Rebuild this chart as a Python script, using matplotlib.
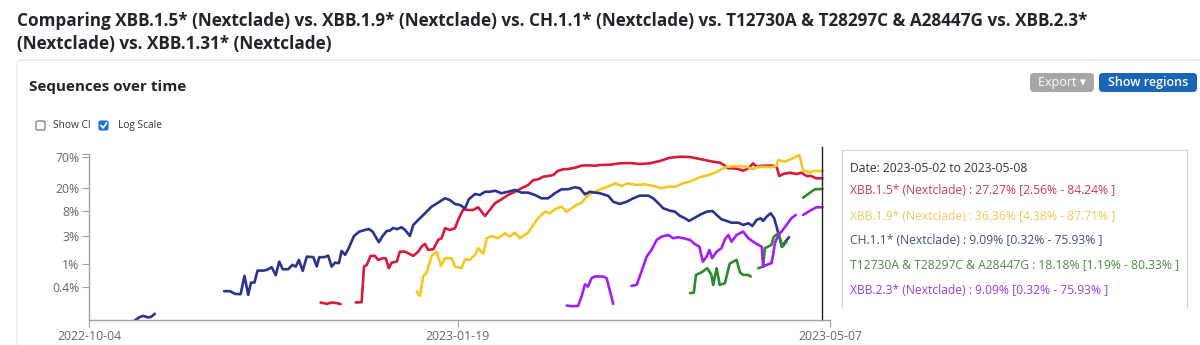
import numpy as np
import matplotlib
matplotlib.use("Agg")
import matplotlib.pyplot as plt
from matplotlib.patches import FancyBboxPatch
from matplotlib.ticker import FixedLocator, NullFormatter, FixedFormatter
from matplotlib.lines import Line2D

FONT = ['Open Sans', 'DejaVu Sans']
plt.rcParams['font.family'] = FONT
NaN = np.nan

# ---------------- data ----------------
x_tick_days = [0, 107, 215]            # days after 2022-10-04
x_tick_labels = ["2022-10-04", "2023-01-19", "2023-05-07"]
y_ticks = [0.4, 1, 3, 8, 20, 70]
y_tick_labels = ["0.4%", "1%", "3%", "8%", "20%", "70%"]
x_range_days = [0, 215]
y_range_pct = [0.105, 78]
hover_day = 212.6

series_names = ["XBB.1.5* (Nextclade)", "XBB.1.9* (Nextclade)", "CH.1.1* (Nextclade)",
                "T12730A & T28297C & A28447G", "XBB.2.3* (Nextclade)"]
series_colors = ["#d7193c", "#f6c623", "#29348a", "#2f8a2b", "#a21ef2"]
text_colors = ["#d23a52", "#f2c85a", "#454e86", "#4f8a45", "#9a3be6"]
tooltip_pct = [27.27, 36.36, 9.09, 18.18, 9.09]
tooltip_lo = [2.56, 4.38, 0.32, 1.19, 0.32]
tooltip_hi = [84.24, 87.71, 75.93, 80.33, 75.93]
tooltip_date = "Date: 2023-05-02 to 2023-05-08"

ch11_day = [13.3, 14.8, 15.7, 17.1, 18.0, 19.1, 29.0,
            39.2, 40.9, 42.4, 44.0, 45.1, 46.2, 47.0, 48.0, 48.9, 50.6,
            51.6, 53.0, 54.2, 55.2, 56.2, 57.8, 59.0, 60.0, 60.9, 62.0,
            63.2, 65.1, 66.1, 66.8, 68.3, 69.4, 70.4, 71.4, 72.5, 73.3,
            74.3, 75.2, 76.9, 78.4, 80.1, 81.2, 82.3, 84.1, 85.2, 86.4,
            87.3, 88.3, 89.3, 90.7, 91.7, 93.1, 94.1, 95.5, 97.5, 99.4,
            101.3, 103.3, 104.7, 106.2, 107.6, 109.1, 110.2, 112.0, 113.4, 114.9,
            116.3, 117.8, 119.7, 121.6, 123.6, 125.5, 127.4, 129.4, 131.3, 133.2,
            135.2, 137.1, 139.0, 141.0, 142.4, 143.9, 145.3, 146.8, 148.2, 150.7,
            152.1, 154.0, 156.0, 157.9, 159.8, 162.3, 163.7, 165.2, 166.6, 168.6,
            170.0, 171.5, 172.9, 174.1, 175.8, 177.2, 179.2, 180.9, 182.1, 183.5,
            185.0, 186.4, 188.4, 189.8, 191.3, 192.5, 193.7, 194.9, 195.6, 196.6,
            197.8, 198.8, 199.5, 200.3, 201.0, 202.0, 203.1]
ch11_pct = [0.105, 0.12, 0.125, 0.118, 0.12, 0.136, NaN,
            0.334, 0.334, 0.300, 0.297, 0.614, 0.289, 0.470, 0.470, 0.757, 0.757,
            0.778, 0.867, 0.631, 1.083, 0.800, 0.800, 0.950, 0.888, 1.158, 0.748,
            1.32, 1.29, 0.888, 1.29, 1.29, 1.374, 0.888, 1.04, 1.016, 1.656,
            1.413, 1.772, 3.00, 3.56, 3.81, 3.96, 3.56, 2.34, 3.00, 3.66,
            3.71, 4.13, 3.92, 4.24, 3.81, 3.00, 4.65, 5.67, 7.39, 9.61,
            11.27, 13.42, 12.54, 10.7, 10.28, 9.02, 12.9, 15.9, 15.3, 17.4,
            17.4, 18.1, 16.4, 17.4, 18.7, 16.8, 16.8, 15.3, 13.4, 13.4,
            16.4, 19.2, 19.2, 20.8, 20.0, 15.7, 17.4, 16.8, 16.4, 14.7,
            11.7, 10.7, 11.7, 13.4, 14.9, 14.9, 13.4, 11.0, 9.02, 8.20,
            7.88, 6.64, 6.07, 5.45, 6.21, 6.92, 7.88, 8.10, 6.92, 5.83,
            5.45, 5.09, 5.09, 4.65, 4.97, 4.47, 5.67, 6.07, 5.45, 6.46,
            7.39, 6.07, 4.34, 2.92, 1.96, 2.37, 2.85]

xbb15_day = [67.2, 69.0, 70.4, 71.9, 73.0, 75.0,
             77.4, 79.1, 79.8, 80.6, 81.7, 83.0, 83.9, 85.2, 86.1, 87.0,
             87.8, 89.3, 90.2, 91.7, 92.6, 94.1, 95.5, 96.5, 97.5, 98.4,
             99.9, 101.3, 102.3, 103.3, 104.7, 106.2, 107.1, 108.6, 110.0, 111.5,
             112.9, 113.9, 114.9, 116.3, 117.8, 119.7, 121.6, 123.6, 125.5, 127.4,
             128.9, 130.3, 131.8, 133.2, 134.7, 136.1, 137.6, 139.0, 141.0, 142.9,
             144.8, 146.8, 148.2, 151.1, 154.0, 156.9, 159.8, 162.7, 165.6, 168.5,
             171.5, 174.4, 176.3, 178.7, 181.1, 183.1, 184.5, 185.5, 186.9, 188.4,
             189.8, 191.3, 192.7, 193.7, 195.1, 196.6, 198.5, 199.5, 200.3, 201.4,
             203.4, 205.3, 206.7, 208.2, 209.6, 210.9, 212.8]
xbb15_pct = [0.213, 0.202, 0.213, 0.208, 0.200, NaN,
             0.213, 0.216, 0.888, 0.950, 1.358, 1.358, 1.158, 1.239, 1.239, 0.833,
             1.04, 1.083, 1.61, 1.61, 1.51, 1.358, 1.61, 1.96, 2.19, 1.72,
             1.772, 2.56, 2.74, 4.08, 3.81, 4.08, 5.67, 8.67, 8.43, 8.43,
             9.39, 7.88, 6.64, 8.43, 11.0, 12.9, 15.3, 17.4, 20.0, 22.7,
             27.7, 28.5, 31.6, 32.5, 33.8, 40.1, 42.4, 42.9, 45.2, 49.0,
             49.7, 49.0, 50.3, 50.9, 53.8, 54.5, 52.4, 53.8, 59.0, 67.2,
             70.0, 69.1, 65.7, 61.4, 57.4, 55.1, 49.0, 44.2, 44.2, 42.9,
             40.1, 44.2, 53.8, 47.0, 49.0, 49.0, 49.0, 47.0, 32.5, 35.2,
             37.1, 35.2, 37.1, 32.5, 32.5, 29.7, 29.7]

xbb19_day = [95.1, 96.0, 97.0, 98.0, 99.4, 100.9, 102.1, 103.3, 105.2, 106.2,
             108.1, 109.1, 110.5, 112.0, 112.9, 114.4, 115.4, 116.8, 118.7, 120.7,
             122.1, 123.6, 125.0, 126.0, 127.4, 128.9, 130.3, 132.3, 133.7, 135.2,
             137.1, 138.6, 140.0, 141.5, 142.9, 144.4, 145.8, 146.8, 149.2, 151.1,
             152.6, 154.5, 156.4, 158.9, 161.3, 163.7, 166.1, 168.1, 170.0, 172.4,
             174.8, 177.2, 179.7, 181.6, 183.5, 185.0, 187.9, 190.8, 192.7, 193.7,
             195.6, 198.0, 199.5, 200.0, 201.9, 203.4, 204.8, 206.1, 207.2, 209.2,
             210.1, 213.0]
xbb19_pct = [0.329, 0.277, 0.614, 0.700, 1.358, 1.61, 0.913, 1.239, 1.239, 0.888,
             0.833, 1.19, 1.158, 1.413, 1.844, 1.47, 2.74, 3.00, 2.74, 3.34,
             2.92, 3.42, 2.74, 3.00, 3.42, 4.65, 6.07, 7.88, 7.39, 8.67,
             9.61, 7.88, 9.02, 10.28, 11.27, 14.3, 16.4, 17.4, 20.0, 21.9,
             24.3, 21.9, 24.3, 22.7, 23.4, 21.9, 20.0, 21.3, 21.3, 24.3,
             26.7, 30.9, 33.8, 37.1, 42.4, 47.0, 48.4, 47.0, 42.4, 45.9,
             47.0, 45.9, 49.0, 61.4, 57.4, 63.1, 68.3, 74.8, 41.3, 37.1,
             39.6, 39.6]

mut_day = [174.4, 175.5, 176.1, 177.7, 179.4, 180.6, 181.1, 182.1, 183.0, 184.5,
           185.9, 187.9, 188.9, 189.8, 191.3, 192.0, 193.0,
           194.2, 195.6, 196.1, 198.0, 198.7, 200.0, 201.2, 202.4, 205.0,
           207.2, 209.2, 210.6, 212.8]
mut_pct = [0.309, 0.316, 0.638, 0.705, 0.833, 0.638, 0.429, 0.833, 0.429, 0.459,
           1.0, 1.158, 0.70, 0.638, 0.638, 0.597, NaN,
           0.833, 0.888, 1.844, 2.10, 2.92, 3.34, 1.96, 2.39, NaN,
           13.7, 16.8, 19.2, 19.4]

xbb23_day = [138.6, 140.0, 141.9, 142.9, 143.9, 144.8, 145.8, 146.8, 149.2, 150.2,
             152.1, 155.0,
             157.4, 158.9, 160.3, 161.8, 163.2, 164.7, 166.1, 168.1, 169.5, 171.0,
             172.4, 174.4, 175.8, 177.1, 178.1, 179.2, 180.0, 180.8, 182.1, 183.5,
             184.5, 185.5, 186.4, 187.9, 189.8, 191.3, 192.7, 194.2, 195.2, 195.6,
             196.6, 198.0, 198.5, 199.0, 200.0, 200.9, 202.4, 203.8, 205.1, 206.0,
             207.2, 209.2, 211.1, 212.8]
xbb23_pct = [0.189, 0.184, 0.186, 0.270, 0.438, 0.401, 0.560, 0.600, 0.597, 0.560,
             0.202, NaN,
             0.413, 0.429, 0.728, 1.32, 1.72, 2.56, 2.92, 3.12, 2.74, 2.85,
             2.74, 2.56, 2.16, 1.96, 1.083, 1.32, 1.72, 1.239, 1.61, 1.844,
             2.63, 3.12, 2.39, 3.12, 3.56, 2.74, 2.39, 2.10, 1.96, 0.888,
             0.950, 1.016, 1.413, 2.25, 3.12, 3.56, 4.65, 6.07, 6.92, NaN,
             6.92, 8.20, 9.39, 9.39]

series_days = [xbb15_day, xbb19_day, ch11_day, mut_day, xbb23_day]
series_pcts = [xbb15_pct, xbb19_pct, ch11_pct, mut_pct, xbb23_pct]

# ---------------- figure ----------------
W, H = 1200, 345
fig = plt.figure(figsize=(W / 100, H / 100), dpi=100)
fig.patch.set_facecolor("white")

# overlay in pixel coordinates for page chrome
bg = fig.add_axes([0, 0, 1, 1])
bg.set_xlim(0, W)
bg.set_ylim(H, 0)
bg.axis("off")

bg.text(17, 21, "Comparing XBB.1.5* (Nextclade) vs. XBB.1.9* (Nextclade) vs. CH.1.1* (Nextclade) "
        "vs. T12730A & T28297C & A28447G vs. XBB.2.3*", fontsize=12.3, fontweight="bold",
        color="#212529", va="center", ha="left")
bg.text(17, 44, "(Nextclade) vs. XBB.1.31* (Nextclade)", fontsize=12.3, fontweight="bold",
        color="#212529", va="center", ha="left")

# card
bg.add_patch(FancyBboxPatch((17, 60), 1220, 320, boxstyle="round,pad=0,rounding_size=5",
                            facecolor="white", edgecolor="#e3e3e3", lw=0.8))
bg.text(29, 87, "Sequences over time", fontsize=11, fontweight="bold",
        color="#212529", va="center", ha="left")

# buttons
bg.add_patch(FancyBboxPatch((1030, 73), 64, 19, boxstyle="round,pad=0,rounding_size=4",
                            facecolor="#a7a7a7", edgecolor="none"))
bg.text(1062, 82.5, "Export \u25BE", fontsize=9, color="white", va="center", ha="center")
bg.add_patch(FancyBboxPatch((1099, 73), 98, 19, boxstyle="round,pad=0,rounding_size=4",
                            facecolor="#1a66b6", edgecolor="none"))
bg.text(1148, 82.5, "Show regions", fontsize=9, color="white", va="center", ha="center",
        fontweight="semibold")

# checkboxes
bg.add_patch(FancyBboxPatch((36, 121), 9, 9, boxstyle="round,pad=0,rounding_size=1.5",
                            facecolor="white", edgecolor="#6b6b6b", lw=0.8))
bg.text(53, 125.5, "Show CI", fontsize=7.3, color="#333333", va="center", ha="left")
bg.add_patch(FancyBboxPatch((99, 121), 9, 9, boxstyle="round,pad=0,rounding_size=1.5",
                            facecolor="#1a73d9", edgecolor="#1a73d9", lw=0.8))
bg.add_line(Line2D([101, 103, 106.5], [125.5, 128, 123], color="white", lw=1.2))
bg.text(118, 125.5, "Log Scale", fontsize=7.3, color="#333333", va="center", ha="left")

# tooltip box (bottom cut off)
bg.add_line(Line2D([842, 842, 1187, 1187], [307, 150, 150, 307], color="#d5d5d5", lw=0.9))
bg.text(850, 169, tooltip_date, fontsize=8.7, color="#333333", va="center", ha="left")
tip_y = [191, 216, 240, 265, 290]
for i in range(len(series_names)):
    txt = f"{series_names[i]} : {tooltip_pct[i]:.2f}% [{tooltip_lo[i]:.2f}% - {tooltip_hi[i]:.2f}% ]"
    bg.text(850, tip_y[i], txt, fontsize=8.7, color=text_colors[i], va="center", ha="left")

# ---------------- chart ----------------
left, right, top, bottom = 89, 830, 154, 320.3
ax = fig.add_axes([left / W, (H - bottom) / H, (right - left) / W, (bottom - top) / H])
ax.set_facecolor("none")
ax.set_yscale("log")
ax.set_xlim(*x_range_days)
ax.set_ylim(*y_range_pct)

for d, p, c in zip(series_days, series_pcts, series_colors):
    ax.plot(np.array(d, float), np.array(p, float), color=c, lw=1.9,
            solid_joinstyle="round", solid_capstyle="round", clip_on=True)

ax.axvline(hover_day, ymin=0, ymax=1.04, color="#222222", lw=1.0, clip_on=False)

ax.yaxis.set_major_locator(FixedLocator(y_ticks))
ax.yaxis.set_major_formatter(FixedFormatter(y_tick_labels))
ax.yaxis.set_minor_locator(FixedLocator([y_range_pct[1]]))
ax.yaxis.set_minor_formatter(NullFormatter())
ax.set_xticks(x_tick_days)
ax.set_xticklabels(x_tick_labels)

for s in ["top", "right"]:
    ax.spines[s].set_visible(False)
for s in ["left", "bottom"]:
    ax.spines[s].set_color("#a0a0a0")
    ax.spines[s].set_linewidth(1.0)
ax.tick_params(axis="both", which="both", direction="out", length=5, width=0.8,
               color="#a0a0a0", labelcolor="#666666", labelsize=8.8, pad=2)

fig.savefig("out.png", dpi=100, facecolor="white")
